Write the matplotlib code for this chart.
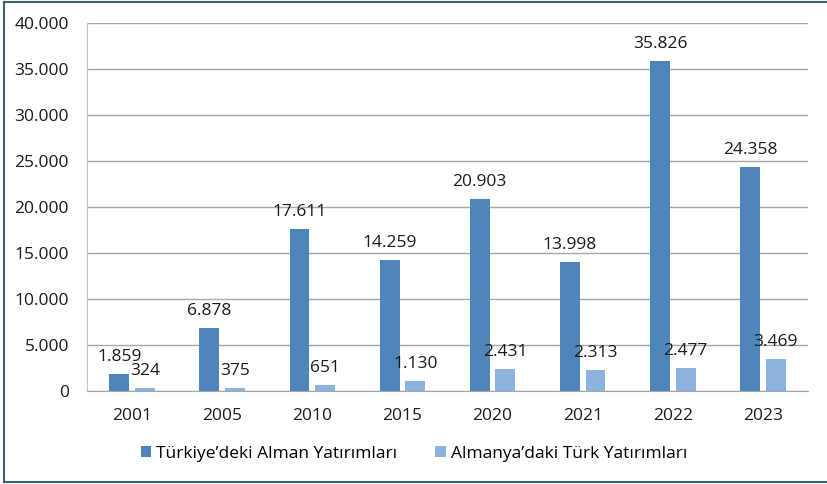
import numpy as np
import matplotlib.pyplot as plt
from matplotlib.ticker import FuncFormatter
from matplotlib.lines import Line2D

years = ['2001', '2005', '2010', '2015', '2020', '2021', '2022', '2023']
alman = [1859, 6878, 17611, 14259, 20903, 13998, 35826, 24358]
turk = [324, 375, 651, 1130, 2431, 2313, 2477, 3469]
series_names = ["Türkiye’deki Alman Yatırımları", "Almanya’daki Türk Yatırımları"]

dark = '#4f86b9'
light = '#8cb3de'

plt.rcParams['font.family'] = ['Open Sans', 'DejaVu Sans']

def dotted(v):
    return f'{int(round(v)):,}'.replace(',', '.')

fig = plt.figure(figsize=(8.28, 4.84), dpi=100)
ax = fig.add_axes([0.105, 0.192, 0.871, 0.7605])

x = np.arange(len(years))
w = 0.22
off = 0.142
b1 = ax.bar(x - off, alman, w, color=dark, label=series_names[0], zorder=3)
b2 = ax.bar(x + off, turk, w, color=light, label=series_names[1], zorder=3)

for bars, vals in ((b1, alman), (b2, turk)):
    for r, v in zip(bars, vals):
        ax.annotate(dotted(v), (r.get_x() + r.get_width() / 2, v),
                    xytext=(0, 6.5), textcoords='offset points',
                    ha='center', va='bottom', fontsize=12.5, color='#1a1a1a', zorder=4)

ax.set_xlim(-0.5, len(years) - 0.5)
ax.set_ylim(0, 40000)
ax.set_yticks(np.arange(0, 40001, 5000))
ax.yaxis.set_major_formatter(FuncFormatter(lambda v, p: dotted(v)))
ax.set_xticks(x)
ax.set_xticklabels(years)
ax.tick_params(axis='both', length=0, labelsize=12.5, labelcolor='#1a1a1a')
ax.tick_params(axis='y', pad=13)
ax.tick_params(axis='x', pad=12)
ax.grid(axis='y', color='#a6a6a6', linewidth=1, zorder=0)
for s in ('top', 'right'):
    ax.spines[s].set_visible(False)
ax.spines['left'].set_color('#c8c8c8')
ax.spines['bottom'].set_color('#a6a6a6')

fig.legend(handles=[b1, b2], loc='center', bbox_to_anchor=(0.5, 0.062), ncol=2,
           frameon=False, fontsize=12.5, handlelength=0.6, handleheight=0.6,
           handletextpad=0.3, columnspacing=2.2)

frame = '#3e5f70'
fig.add_artist(Line2D([0.005, 0.005], [0.004, 0.996], color=frame, lw=1.5, transform=fig.transFigure))
fig.add_artist(Line2D([0.005, 1.0], [0.996, 0.996], color=frame, lw=1.5, transform=fig.transFigure))
fig.add_artist(Line2D([0.005, 1.0], [0.004, 0.004], color=frame, lw=1.5, transform=fig.transFigure))

fig.savefig('out.png', dpi=100)
